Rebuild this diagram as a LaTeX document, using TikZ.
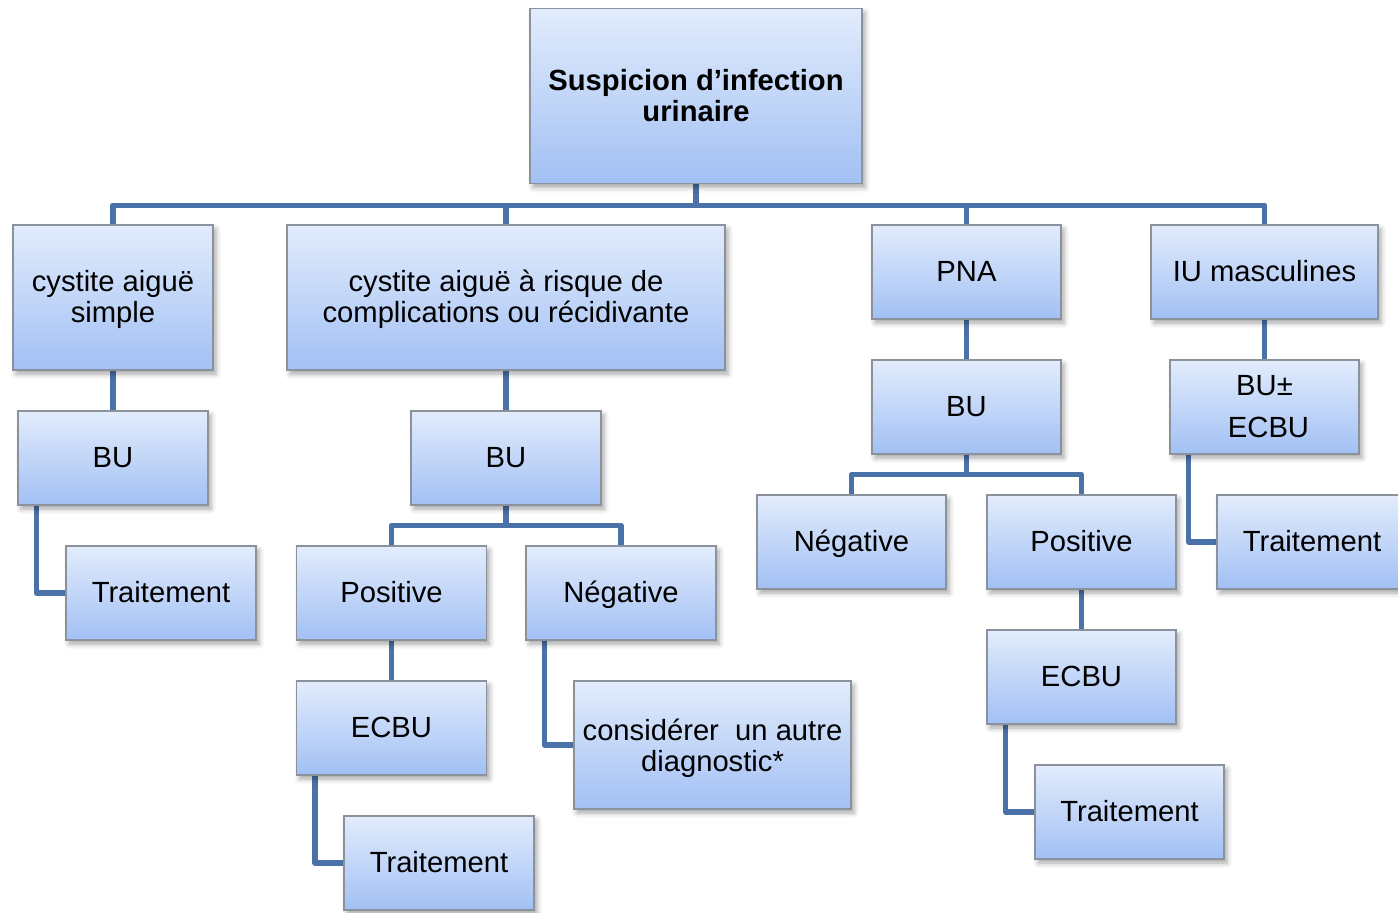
\documentclass[tikz,border=0pt]{standalone}
\usepackage{fontspec}
\setmainfont{Liberation Sans}
\usetikzlibrary{shadows,shadows.blur,backgrounds}
\definecolor{linec}{HTML}{4A72A8}
\definecolor{topc}{HTML}{E2ECFC}
\definecolor{botc}{HTML}{A2C0F4}
\definecolor{edgec}{HTML}{8C929C}
\newcommand{\upstrut}[1]{\rule{0pt}{#1}}
\tikzset{
  box/.style={rectangle, draw=edgec, line width=0.6pt, top color=topc, bottom color=botc,
    align=center, inner sep=0pt, font=\fontsize{14.6}{15.5}\selectfont,
    blur shadow={shadow xshift=1.5pt, shadow yshift=-2pt, shadow blur radius=2.5pt, shadow opacity=35}},
  std/.style={box, minimum width=95pt, minimum height=47pt, text height=10.5pt, text depth=1.5pt},
  conn/.style={draw=linec, line width=2.6pt, line join=round}
}
\begin{document}
\begin{tikzpicture}[x=0.5pt,y=-0.5pt]
\useasboundingbox (0,0) rectangle (1398,912);
\node[box, minimum width=166pt, minimum height=87.5pt, font=\fontsize{14.6}{15.5}\selectfont\bfseries] (root) at (696,96) {Suspicion d’infection\\urinaire};
\node[box, minimum width=100pt, minimum height=72.5pt] (cs) at (113,297.5) {\upstrut{12.8pt}cystite aiguë\\simple};
\node[box, minimum width=219pt, minimum height=72.5pt] (cc) at (506,297.5) {\upstrut{12.8pt}cystite aiguë à risque de\\complications ou récidivante};
\node[std, minimum width=94.5pt] (pna) at (966.5,272) {PNA};
\node[std, minimum width=113.5pt] (iu) at (1264.5,272) {IU masculines};
\node[std] (bu1) at (113,458) {BU};
\node[std] (tr1) at (161,593) {Traitement};
\node[std] (bu2) at (506,458) {BU};
\node[std] (pos2) at (391.5,593) {Positive};
\node[std] (neg2) at (621,593) {Négative};
\node[std] (ecbu2) at (391.5,728) {ECBU};
\node[std] (tr2) at (439,863) {Traitement};
\node[box, minimum width=138.5pt, minimum height=64pt] (cons) at (712.5,745) {\upstrut{13.8pt}considérer\ \ un autre\\diagnostic*};
\node[std, minimum width=94.5pt] (bu3) at (966.5,407) {BU};
\node[std, minimum width=94.5pt] (neg3) at (851.5,542) {Négative};
\node[std, minimum width=94.5pt] (pos3) at (1081.5,542) {Positive};
\node[std, minimum width=94.5pt] (ecbu3) at (1081.5,677) {ECBU};
\node[std, minimum width=94.5pt] (tr3) at (1129.5,812) {Traitement};
\node[box, minimum width=94.5pt, minimum height=47pt] (bu4) at (1264.5,407) {BU±\\[5.5pt]\hspace*{4pt}ECBU};
\node[std] (tr4) at (1312,542) {Traitement};
\begin{scope}[on background layer]
\foreach \c in {cs,cc,pna,iu}{
  \draw[conn] (root.south) -- ++(0,21) -| (\c.north);
}
\draw[conn] (cs.south) -- (bu1.north);
\draw[conn] ([xshift=9.5pt]bu1.south west) |- (tr1.west);
\draw[conn] (cc.south) -- (bu2.north);
\foreach \c in {pos2,neg2}{
  \draw[conn] (bu2.south) -- ++(0,20) -| (\c.north);
}
\draw[conn] (pos2.south) -- (ecbu2.north);
\draw[conn] ([xshift=9.5pt]ecbu2.south west) |- (tr2.west);
\draw[conn] ([xshift=9.5pt]neg2.south west) |- (cons.west);
\draw[conn] (pna.south) -- (bu3.north);
\foreach \c in {neg3,pos3}{
  \draw[conn] (bu3.south) -- ++(0,20) -| (\c.north);
}
\draw[conn] (pos3.south) -- (ecbu3.north);
\draw[conn] ([xshift=9.5pt]ecbu3.south west) |- (tr3.west);
\draw[conn] (iu.south) -- (bu4.north);
\draw[conn] ([xshift=9.5pt]bu4.south west) |- (tr4.west);
\end{scope}
\end{tikzpicture}
\end{document}
